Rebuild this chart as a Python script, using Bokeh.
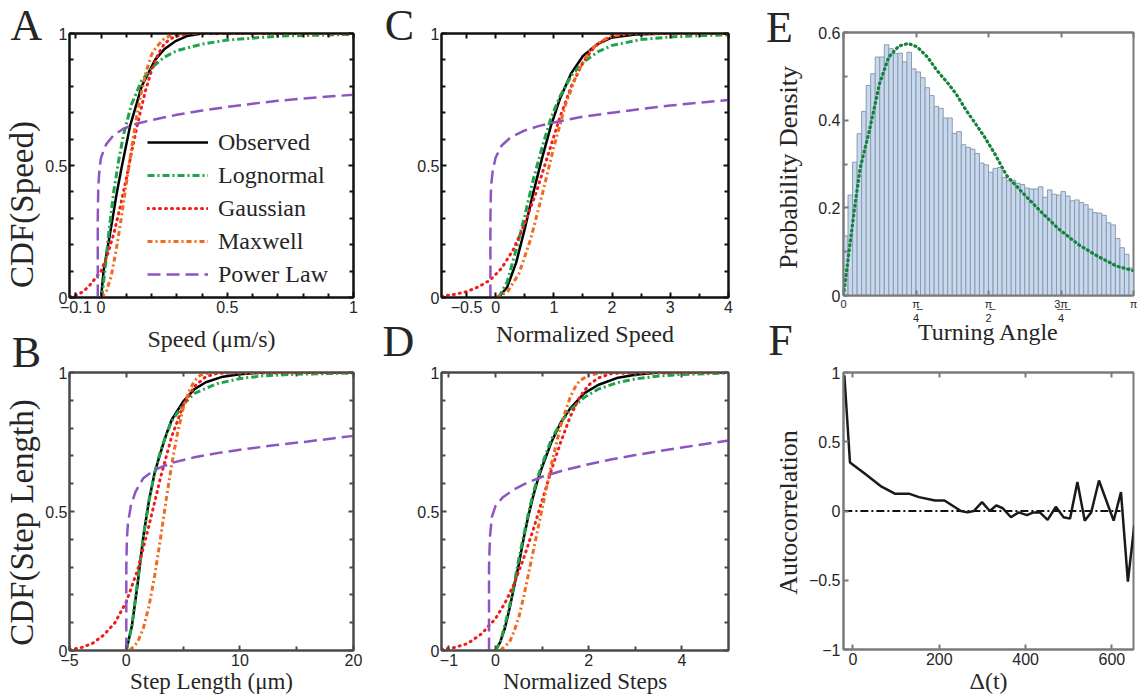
import numpy as np
from bokeh.plotting import figure
from bokeh.models import (Range1d, FixedTicker, LinearAxis, Label, Legend,
                          LegendItem, CustomJSTickFormatter)
from bokeh.layouts import row, column
from bokeh.embed import file_html
from bokeh.resources import INLINE

SANS = "Liberation Sans"
SERIF = "Liberation Serif"

# ---------------- data: A (speed, um/s) ----------------
obs_A_x = [0.0, 0.01, 0.037, 0.063, 0.083, 0.115, 0.161, 0.214, 0.25, 0.293, 0.34, 0.4, 1.0]
obs_A_y = [0.0, 0.1, 0.25, 0.4, 0.5, 0.65, 0.8, 0.9, 0.94, 0.97, 0.99, 1.0, 1.0]
logn_A_x = [0.003, 0.015, 0.03, 0.05, 0.07, 0.09, 0.12, 0.16, 0.2, 0.25, 0.3, 0.4, 0.5, 0.7, 1.0]
logn_A_y = [0.0, 0.1, 0.24, 0.4, 0.52, 0.62, 0.73, 0.82, 0.87, 0.91, 0.935, 0.96, 0.975, 0.99, 0.997]
gaus_A_x = [-0.125, -0.1, -0.075, -0.05, -0.025, 0.0, 0.025, 0.05, 0.075, 0.1, 0.125, 0.15,
            0.175, 0.2, 0.225, 0.25, 0.275, 0.3, 0.35, 1.0]
gaus_A_y = [0.003, 0.008, 0.02, 0.04, 0.07, 0.1, 0.16, 0.24, 0.34, 0.45, 0.57, 0.68,
            0.78, 0.86, 0.92, 0.96, 0.98, 0.99, 1.0, 1.0]
maxw_A_x = [0.0, 0.02, 0.04, 0.06, 0.08, 0.1, 0.12, 0.14, 0.16, 0.18, 0.2, 0.22, 0.25, 0.28, 0.32, 1.0]
maxw_A_y = [0.0, 0.02, 0.08, 0.18, 0.3, 0.43, 0.56, 0.68, 0.78, 0.86, 0.92, 0.95, 0.98, 0.995, 1.0, 1.0]
powl_A_x = [-0.013, -0.013, -0.011, -0.006, 0.0, 0.02, 0.05, 0.09, 0.14, 0.2, 0.3, 0.4, 0.5,
            0.6, 0.7, 0.8, 0.9, 1.0]
powl_A_y = [0.0, 0.3, 0.42, 0.49, 0.53, 0.58, 0.615, 0.64, 0.658, 0.672, 0.692, 0.708, 0.722,
            0.734, 0.745, 0.754, 0.761, 0.768]

# ---------------- data: C (normalized speed) ----------------
obs_C_x = [0.05, 0.2, 0.35, 0.5, 0.65, 0.8, 0.95, 1.1, 1.3, 1.5, 1.75, 2.0, 2.4, 3.0, 4.0]
obs_C_y = [0.0, 0.04, 0.13, 0.26, 0.4, 0.53, 0.65, 0.75, 0.85, 0.915, 0.96, 0.985, 0.996, 1.0, 1.0]
logn_C_x = [0.05, 0.2, 0.35, 0.5, 0.65, 0.8, 0.95, 1.1, 1.3, 1.5, 1.75, 2.0, 2.5, 3.0, 3.5, 4.0]
logn_C_y = [0.0, 0.06, 0.18, 0.31, 0.45, 0.57, 0.68, 0.76, 0.84, 0.89, 0.93, 0.955, 0.977,
            0.987, 0.992, 0.995]
gaus_C_x = [-0.93, -0.7, -0.5, -0.3, -0.1, 0.1, 0.3, 0.5, 0.7, 0.9, 1.1, 1.3, 1.5, 1.7, 1.9,
            2.1, 2.4, 4.0]
gaus_C_y = [0.005, 0.012, 0.022, 0.04, 0.065, 0.11, 0.18, 0.28, 0.4, 0.54, 0.68, 0.8, 0.89,
            0.95, 0.98, 0.993, 1.0, 1.0]
maxw_C_x = [0.0, 0.2, 0.4, 0.6, 0.8, 1.0, 1.2, 1.4, 1.6, 1.8, 2.0, 2.3, 4.0]
maxw_C_y = [0.0, 0.02, 0.09, 0.22, 0.39, 0.57, 0.73, 0.85, 0.93, 0.97, 0.99, 1.0, 1.0]
powl_C_x = [-0.09, -0.09, -0.08, -0.05, 0.0, 0.1, 0.25, 0.5, 0.75, 1.0, 1.5, 2.0, 2.5, 3.0, 3.5, 4.0]
powl_C_y = [0.0, 0.3, 0.42, 0.48, 0.53, 0.575, 0.605, 0.633, 0.65, 0.663, 0.685, 0.70, 0.714,
            0.727, 0.738, 0.748]

# ---------------- data: B (step length, um) ----------------
obs_B_x = [0.0, 0.5, 1.0, 1.5, 2.0, 2.5, 3.0, 3.5, 4.0, 5.0, 6.0, 7.0, 8.5, 10.0, 12.0, 20.0]
obs_B_y = [0.0, 0.09, 0.24, 0.41, 0.54, 0.64, 0.71, 0.775, 0.83, 0.895, 0.94, 0.965, 0.985,
           0.994, 1.0, 1.0]
logn_B_x = [0.0, 0.5, 1.0, 1.5, 2.0, 2.5, 3.0, 3.5, 4.0, 5.0, 6.0, 8.0, 10.0, 12.0, 15.0, 20.0]
logn_B_y = [0.0, 0.09, 0.25, 0.41, 0.54, 0.64, 0.715, 0.775, 0.825, 0.885, 0.925, 0.96, 0.978,
            0.988, 0.994, 0.998]
gaus_B_x = [-5, -4, -3, -2, -1, 0, 1, 2, 3, 4, 5, 6, 7, 8, 20]
gaus_B_y = [0.003, 0.01, 0.025, 0.055, 0.1, 0.175, 0.29, 0.45, 0.62, 0.77, 0.88, 0.95, 0.985,
            0.997, 1.0]
maxw_B_x = [0.3, 1.0, 1.5, 2.0, 2.5, 3.0, 3.5, 4.0, 4.5, 5.0, 5.5, 6.0, 6.5, 7.5, 20]
maxw_B_y = [0.0, 0.03, 0.08, 0.16, 0.27, 0.4, 0.54, 0.67, 0.78, 0.87, 0.93, 0.97, 0.99, 1.0, 1.0]
powl_B_x = [0.0, 0.0, 0.05, 0.15, 0.4, 0.8, 1.5, 2.5, 4.0, 6.0, 8.0, 10.0, 13.0, 16.0, 20.0]
powl_B_y = [0.0, 0.3, 0.4, 0.46, 0.52, 0.57, 0.62, 0.65, 0.675, 0.695, 0.71, 0.722, 0.738,
            0.752, 0.772]

# ---------------- data: D (normalized steps) ----------------
obs_D_x = [0.0, 0.1, 0.2, 0.3, 0.4, 0.5, 0.6, 0.7, 0.8, 0.9, 1.0, 1.2, 1.4, 1.6, 1.9, 2.2,
           2.6, 3.0, 3.5, 5.0]
obs_D_y = [0.0, 0.03, 0.08, 0.15, 0.23, 0.31, 0.4, 0.48, 0.55, 0.61, 0.66, 0.75, 0.82, 0.87,
           0.925, 0.955, 0.98, 0.992, 1.0, 1.0]
logn_D_x = [0.0, 0.1, 0.2, 0.3, 0.4, 0.5, 0.6, 0.7, 0.8, 0.9, 1.0, 1.2, 1.4, 1.6, 1.9, 2.2,
            2.6, 3.0, 3.5, 4.0, 5.0]
logn_D_y = [0.0, 0.03, 0.09, 0.16, 0.24, 0.33, 0.41, 0.49, 0.56, 0.62, 0.67, 0.76, 0.82, 0.865,
            0.91, 0.94, 0.963, 0.977, 0.987, 0.993, 0.998]
gaus_D_x = [-1.16, -0.9, -0.6, -0.3, 0.0, 0.2, 0.4, 0.6, 0.8, 1.0, 1.2, 1.4, 1.6, 1.8, 2.0,
            2.2, 2.5, 5.0]
gaus_D_y = [0.004, 0.01, 0.025, 0.06, 0.115, 0.17, 0.24, 0.33, 0.43, 0.54, 0.65, 0.75, 0.84,
            0.91, 0.955, 0.98, 0.997, 1.0]
maxw_D_x = [0.1, 0.3, 0.4, 0.5, 0.6, 0.7, 0.8, 0.9, 1.0, 1.1, 1.2, 1.3, 1.4, 1.5, 1.6, 1.7,
            1.8, 2.0, 2.3, 5.0]
maxw_D_y = [0.0, 0.03, 0.07, 0.12, 0.19, 0.27, 0.35, 0.43, 0.51, 0.59, 0.67, 0.74, 0.81, 0.86,
            0.91, 0.945, 0.97, 0.99, 1.0, 1.0]
powl_D_x = [-0.14, -0.14, -0.12, -0.08, 0.0, 0.15, 0.4, 0.7, 1.0, 1.5, 2.0, 2.5, 3.0, 3.5,
            4.0, 4.5, 5.0]
powl_D_y = [0.0, 0.3, 0.41, 0.48, 0.52, 0.55, 0.58, 0.605, 0.625, 0.65, 0.67, 0.688, 0.703,
            0.717, 0.73, 0.743, 0.755]

# ---------------- data: E (turning angle histogram) ----------------
turn_density = [0.136, 0.229, 0.304, 0.369, 0.42, 0.479, 0.506, 0.544, 0.544, 0.572, 0.563,
                0.552, 0.553, 0.533, 0.555, 0.517, 0.51, 0.497, 0.474, 0.456, 0.431, 0.427,
                0.405, 0.405, 0.37, 0.374, 0.344, 0.338, 0.334, 0.324, 0.302, 0.298, 0.281,
                0.29, 0.292, 0.269, 0.262, 0.263, 0.256, 0.253, 0.245, 0.243, 0.243, 0.248,
                0.224, 0.241, 0.231, 0.229, 0.237, 0.227, 0.216, 0.218, 0.212, 0.207, 0.197,
                0.189, 0.188, 0.183, 0.166, 0.161, 0.13, 0.109, 0.094, 0.063]
fit_angle = [0.0, 0.06, 0.12, 0.18, 0.28, 0.39, 0.49, 0.60, 0.70, 0.80, 0.91, 1.01, 1.12, 1.22,
             1.33, 1.43, 1.53, 1.64, 1.72, 1.77, 1.92, 2.13, 2.33, 2.54, 2.75, 2.96, 3.08, 3.14]
fit_density = [0.0, 0.10, 0.20, 0.29, 0.376, 0.483, 0.544, 0.569, 0.575, 0.567, 0.544, 0.514,
               0.487, 0.46, 0.422, 0.392, 0.361, 0.323, 0.292, 0.273, 0.239, 0.193, 0.152,
               0.117, 0.090, 0.067, 0.060, 0.057]

# ---------------- data: F (autocorrelation) ----------------
lag = [-20, -7, 27, 64, 98, 131, 153, 190, 212, 250, 265, 280, 299, 317, 332, 347, 366, 384,
       403, 418, 433, 451, 470, 488, 503, 520, 537, 552, 570, 604, 621, 637, 652]
autocorr = [0.98, 0.35, 0.27, 0.18, 0.124, 0.124, 0.10, 0.076, 0.076, 0.0, -0.01, 0.0, 0.064,
            0.0, 0.04, 0.02, -0.045, -0.01, -0.03, -0.01, -0.01, -0.064, 0.03, -0.045, -0.055,
            0.21, -0.07, -0.01, 0.22, -0.07, 0.136, -0.51, -0.10]
zero_x = [-20, 620]
zero_y = [0, 0]

series_names = ["Observed", "Lognormal", "Gaussian", "Maxwell", "Power Law"]

# ---------------- styles ----------------
C_OBS = "#000000"
C_LOGN = "#1ea54a"
C_GAUS = "#f21c1c"
C_MAXW = "#f26a1f"
C_POWL = "#8e55c2"
TXT = "#262626"
H_TOP, H_BOT = 357, 341
FULL_H = H_TOP + H_BOT


def style_axis(ax, ticks, minor, color, blank=False, size="16px", standoff=3):
    ax.ticker = FixedTicker(ticks=ticks, minor_ticks=minor)
    ax.axis_line_color = color
    ax.axis_line_width = 2
    ax.major_tick_in = 5
    ax.major_tick_out = 0
    ax.minor_tick_in = 4
    ax.minor_tick_out = 0
    ax.major_tick_line_color = color
    ax.minor_tick_line_color = color
    ax.major_tick_line_width = 2
    ax.minor_tick_line_width = 2
    if blank:
        ax.formatter = CustomJSTickFormatter(code="return ''")
        ax.major_label_standoff = 0
        ax.major_label_text_font_size = "1px"
    else:
        ax.major_label_text_font = SANS
        ax.major_label_text_font_size = size
        ax.major_label_text_color = TXT
        ax.major_label_standoff = standoff


def make_panel(width, height, bl, br, bt, bb, xr, yr, color, xt, xm, yt, ym,
               xlabel, xlabel_size, xlabel_standoff, right=True, ystandoff=2):
    p = figure(width=width, height=height, x_range=Range1d(*xr), y_range=Range1d(*yr),
               toolbar_location=None, output_backend="svg",
               min_border_left=bl, min_border_right=br, min_border_top=bt,
               min_border_bottom=bb)
    p.grid.visible = False
    p.outline_line_color = color
    p.outline_line_width = 2
    p.background_fill_color = "white"
    p.border_fill_color = "white"
    xa = p.below[0]
    ya = p.left[0]
    style_axis(xa, xt, xm, color)
    style_axis(ya, yt, ym, color, standoff=ystandoff)
    xa.axis_label = xlabel
    xa.axis_label_text_font = SERIF
    xa.axis_label_text_font_style = "normal"
    xa.axis_label_text_font_size = f"{xlabel_size}px"
    xa.axis_label_text_color = TXT
    xa.axis_label_standoff = xlabel_standoff
    top = LinearAxis()
    style_axis(top, xt, xm, color, blank=True)
    p.add_layout(top, "above")
    if right:
        rax = LinearAxis()
        style_axis(rax, yt, ym, color, blank=True)
        p.add_layout(rax, "right")
    return p, xa, ya


def make_strip(width):
    s = figure(width=width, height=FULL_H, x_range=Range1d(0, 1), y_range=Range1d(0, 1),
               toolbar_location=None, output_backend="svg", x_axis_type=None,
               y_axis_type=None, min_border=0, min_border_left=0, min_border_right=0,
               min_border_top=0, min_border_bottom=0)
    s.outline_line_color = None
    s.background_fill_color = "white"
    s.border_fill_color = "white"
    return s


def txt(p, sx, page_y, text, size, angle=0.0):
    # sx: px from the strip's left edge; page_y: px from the top of the page
    p.add_layout(Label(x=sx, y=FULL_H - page_y, x_units="screen", y_units="screen",
                       text=text, text_font=SERIF, text_font_size=f"{size}px",
                       text_color=TXT, text_align="center", text_baseline="middle",
                       angle=angle))


def cdf_lines(p, d):
    rs = [p.line(d[0][0], d[0][1], line_color=C_OBS, line_width=2.5),
          p.line(d[1][0], d[1][1], line_color=C_LOGN, line_width=3, line_dash="7 3 2 3"),
          p.line(d[2][0], d[2][1], line_color=C_GAUS, line_width=3, line_dash="1 5",
                 line_cap="round"),
          p.line(d[3][0], d[3][1], line_color=C_MAXW, line_width=3, line_dash="5 3 2 3"),
          p.line(d[4][0], d[4][1], line_color=C_POWL, line_width=2.5, line_dash="13 6")]
    return rs


y_cdf_ticks = [0, 0.5, 1]
y_cdf_minor = [0.1, 0.2, 0.3, 0.4, 0.6, 0.7, 0.8, 0.9]

# ---- A ----
pA, _, _ = make_panel(338, H_TOP, 25, 27, 33, 60, (-0.125, 1), (0, 1), "#111111",
                      [-0.1, 0, 0.5, 1], [0.1, 0.2, 0.3, 0.4, 0.6, 0.7, 0.8, 0.9],
                      y_cdf_ticks, y_cdf_minor, "Speed (μm/s)", 24, 10)
rA = cdf_lines(pA, [(obs_A_x, obs_A_y), (logn_A_x, logn_A_y), (gaus_A_x, gaus_A_y),
                    (maxw_A_x, maxw_A_y), (powl_A_x, powl_A_y)])
items = [LegendItem(label=n, renderers=[r]) for n, r in zip(series_names, rA)]
legend = Legend(items=items, location=(78, 9), label_text_font=SERIF,
                label_text_font_size="24px", label_text_color=TXT, glyph_width=61,
                glyph_height=28, label_height=28, spacing=5, padding=0, margin=0,
                label_standoff=10, border_line_alpha=0, background_fill_alpha=0)
pA.add_layout(legend)

# ---- C ----
pC, _, _ = make_panel(346, H_TOP, 25, 32, 33, 60, (-0.93, 4), (0, 1), "#111111",
                      [-0.5, 0, 1, 2, 3, 4], [0.5, 1.5, 2.5, 3.5],
                      y_cdf_ticks, y_cdf_minor, "Normalized Speed", 24, 5)
cdf_lines(pC, [(obs_C_x, obs_C_y), (logn_C_x, logn_C_y), (gaus_C_x, gaus_C_y),
               (maxw_C_x, maxw_C_y), (powl_C_x, powl_C_y)])

# ---- E ----
E_COL = "#7a7a7a"
pE, eX, _ = make_panel(336, H_TOP, 40, 6, 32, 62, (0, np.pi), (0, 0.6), E_COL,
                       [0, np.pi / 4, np.pi / 2, 3 * np.pi / 4, np.pi], [],
                       [0, 0.2, 0.4, 0.6], [0.1, 0.3, 0.5], "Turning Angle", 24, -8,
                       right=False, ystandoff=3)
eX.major_label_text_font_size = "11px"
eX.major_label_standoff = 2
eX.formatter = CustomJSTickFormatter(code=(
    "const P = Math.PI;"
    "if (Math.abs(tick) < 1e-9) { return '0'; }"
    "if (Math.abs(tick - P / 4) < 1e-6) { return '\\u03c0\\u0332\\n4'; }"
    "if (Math.abs(tick - P / 2) < 1e-6) { return '\\u03c0\\u0332\\n2'; }"
    "if (Math.abs(tick - 3 * P / 4) < 1e-6) { return '3\\u0332\\u03c0\\u0332\\n4'; }"
    "return '\\u03c0';"))
edges = np.linspace(0, np.pi, len(turn_density) + 1)
pE.quad(left=edges[:-1], right=edges[1:], bottom=0, top=turn_density,
        fill_color="#c7d9ef", line_color="#8d9bab", line_width=1)
pE.line(fit_angle, fit_density, line_color="#13823a", line_width=3.2, line_dash="1 4",
        line_cap="round")

# ---- B ----
pB, _, _ = make_panel(338, H_BOT, 26, 27, 15, 48, (-5, 20), (0, 1), "#4a4a4a",
                      [-5, 0, 10, 20], [5, 15], y_cdf_ticks, y_cdf_minor,
                      "Step Length (μm)", 23, 0)
cdf_lines(pB, [(obs_B_x, obs_B_y), (logn_B_x, logn_B_y), (gaus_B_x, gaus_B_y),
               (maxw_B_x, maxw_B_y), (powl_B_x, powl_B_y)])

# ---- D ----
pD, _, _ = make_panel(346, H_BOT, 25, 32, 15, 48, (-1.16, 5), (0, 1), "#4a4a4a",
                      [-1, 0, 2, 4], [1, 3], y_cdf_ticks, y_cdf_minor,
                      "Normalized Steps", 23, 0)
cdf_lines(pD, [(obs_D_x, obs_D_y), (logn_D_x, logn_D_y), (gaus_D_x, gaus_D_y),
               (maxw_D_x, maxw_D_y), (powl_D_x, powl_D_y)])

# ---- F ----
pF, _, _ = make_panel(336, H_BOT, 36, 0, 15, 49, (-22, 650), (-1, 1), E_COL,
                      [0, 200, 400, 600], [], [-1, -0.5, 0, 0.5, 1], [], "Δ(t)", 24, 0,
                      right=False, ystandoff=3)
pF.line(zero_x, zero_y, line_color="#111111", line_width=2, line_dash="8 3 2 3")
pF.line(lag, autocorr, line_color="#1a1a1a", line_width=2.5)

# ---- text strips (panel letters and y titles) ----
s1 = make_strip(42)
txt(s1, 26, 25, "A", 44)
txt(s1, 21, 204, "CDF(Speed)", 33, angle=np.pi / 2)
txt(s1, 26, 352, "B", 44)
txt(s1, 21, 522, "CDF(Step Length)", 33, angle=np.pi / 2)

s3 = make_strip(34)
txt(s3, 19, 25, "C", 44)
txt(s3, 18, 341, "D", 44)

s5 = make_strip(43)
txt(s5, 19, 27, "E", 44)
txt(s5, 28, 167, "Probability Density", 26, angle=np.pi / 2)
txt(s5, 20, 340, "F", 44)
txt(s5, 28, 512, "Autocorrelation", 26, angle=np.pi / 2)

layout = row(s1, column(pA, pB), s3, column(pC, pD), s5, column(pE, pF))
open("out.html", "w").write(file_html(layout, INLINE))
